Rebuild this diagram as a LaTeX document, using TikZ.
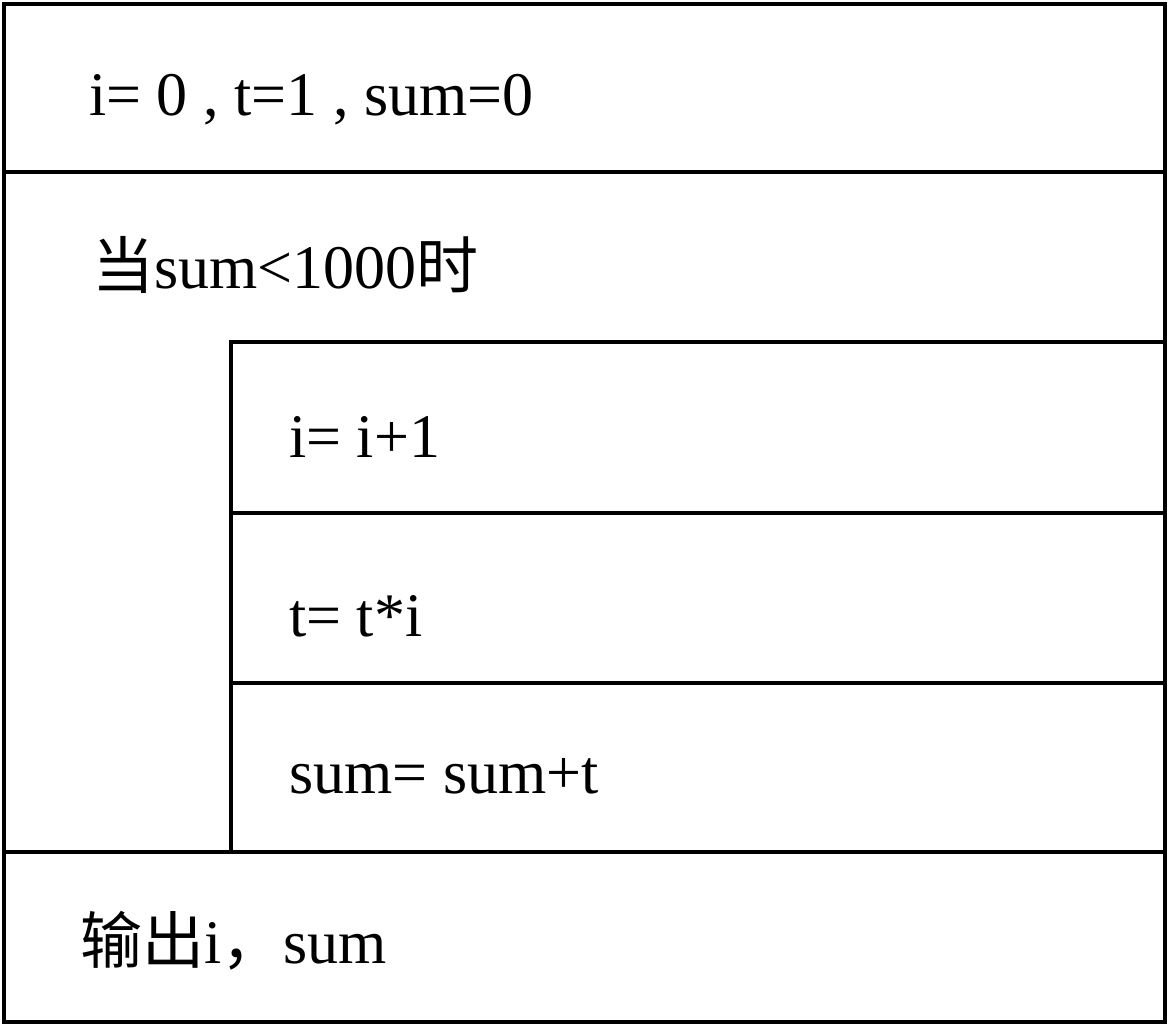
\documentclass[tikz,border=0pt]{standalone}
\usepackage{fontspec}
\setmainfont{Liberation Serif}
\newfontfamily\cjk{Noto Sans CJK SC}
\begin{document}
\begin{tikzpicture}[x=1pt,y=-1pt,
  frame/.style={draw=black,line width=4pt},
  lbl/.style={anchor=base west,inner sep=0pt,font=\fontsize{62}{70}\selectfont}]
\useasboundingbox (0,0) rectangle (1169,1026);
% outer box
\draw[frame] (4,4) rectangle (1165,1022);
\draw[frame] (4,172) -- (1165,172);
\draw[frame] (4,852) -- (1165,852);
% inner loop body
\draw[frame] (231,852) -- (231,342) -- (1165,342);
\draw[frame] (231,513) -- (1165,513);
\draw[frame] (231,683) -- (1165,683);
% texts
\node[lbl] (init) at (89,115) {i= 0 , t=1 , sum=0};
\node[lbl] (cond) at (92,288) {{\cjk 当}sum<1000{\cjk 时}};
\node[lbl] (s1) at (289,457) {i= i+1};
\node[lbl] (s2) at (289,636) {t= t*i};
\node[lbl] (s3) at (289,793) {sum= sum+t};
\node[lbl] (out) at (80,963) {{\cjk 输出}i{\cjk ，}sum};
\end{tikzpicture}
\end{document}
